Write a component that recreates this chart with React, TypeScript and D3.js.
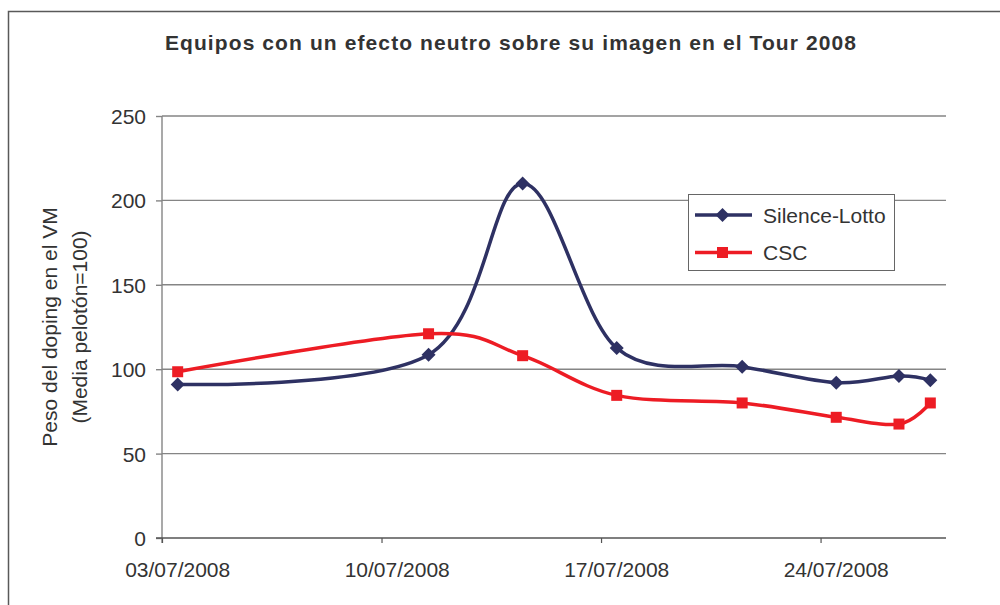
import React, { useEffect, useRef } from 'react';
import * as d3 from 'd3';

// data
const dates = ['2008-07-03', '2008-07-11', '2008-07-14', '2008-07-17', '2008-07-21', '2008-07-24', '2008-07-26', '2008-07-27'];
const silenceLotto = [91, 108.5, 210, 112.5, 101.5, 92, 96, 93.5];
const csc = [98.5, 121, 108, 84.5, 80, 71.5, 67.5, 80];
const seriesNames = ['Silence-Lotto', 'CSC'];
const xTickDates = ['2008-07-03', '2008-07-10', '2008-07-17', '2008-07-24'];
const yTicks = [0, 50, 100, 150, 200, 250];

const title = 'Equipos con un efecto neutro sobre su imagen en el Tour 2008';
const yTitle = ['Peso del doping en el VM', '(Media pelotón=100)'];

const NAVY = '#2e3163';
const RED = '#ed1c24';
const TEXT = '#333333';
const GRID = '#858585';
const FONT = '"Liberation Sans", Arial, sans-serif';

const parse = (s: string) => new Date(s + 'T00:00:00');
const noon = (s: string) => new Date(s + 'T12:00:00');

const App: React.FC = () => {
  const svgRef = useRef<SVGSVGElement>(null);

  useEffect(() => {
    if (!svgRef.current) return;
    const svg = d3.select(svgRef.current);
    svg.selectAll('*').remove();

    const left = 162, right = 946, top = 116, bottom = 538;

    const x = d3.scaleTime()
      .domain([parse('2008-07-03'), parse('2008-07-28')])
      .range([left, right]);
    const y = d3.scaleLinear().domain([0, 250]).range([bottom, top]);

    // outer frame
    svg.append('rect')
      .attr('x', 8.5).attr('y', 11.5)
      .attr('width', 1100).attr('height', 700)
      .attr('fill', 'white')
      .attr('stroke', '#595959').attr('stroke-width', 1.5);

    // title
    svg.append('text')
      .attr('x', 511).attr('y', 50)
      .attr('text-anchor', 'middle')
      .attr('font-family', FONT).attr('font-size', 21).attr('font-weight', 'bold')
      .attr('letter-spacing', 1.1)
      .attr('fill', TEXT)
      .text(title);

    // gridlines
    svg.append('g').selectAll('line')
      .data(yTicks.filter(t => t > 0))
      .enter().append('line')
      .attr('x1', left).attr('x2', right)
      .attr('y1', d => y(d)).attr('y2', d => y(d))
      .attr('stroke', GRID).attr('stroke-width', 1.4);

    // y axis
    const yAxis = svg.append('g')
      .attr('transform', `translate(${left},0)`)
      .call(d3.axisLeft(y).tickValues(yTicks).tickSize(6).tickPadding(10));
    yAxis.select('.domain').remove();
    yAxis.selectAll('line').attr('stroke', GRID).attr('stroke-width', 1.4);
    yAxis.selectAll('text')
      .attr('font-family', FONT).attr('font-size', 21).attr('fill', TEXT)
      .attr('dy', '0.36em');
    svg.append('line')
      .attr('x1', left).attr('x2', left)
      .attr('y1', top).attr('y2', bottom + 5)
      .attr('stroke', GRID).attr('stroke-width', 1.4);

    // x axis
    const xAxis = svg.append('g')
      .attr('transform', `translate(0,${bottom})`)
      .call(d3.axisBottom(x).tickValues(xTickDates.map(parse)).tickSize(5).tickFormat(() => ''));
    xAxis.select('.domain').remove();
    xAxis.selectAll('line').attr('stroke', '#555').attr('stroke-width', 1.2);
    svg.append('line')
      .attr('x1', left - 6).attr('x2', right)
      .attr('y1', bottom).attr('y2', bottom)
      .attr('stroke', '#555').attr('stroke-width', 1.4);
    svg.append('g').selectAll('text')
      .data(xTickDates)
      .enter().append('text')
      .attr('x', d => x(noon(d)))
      .attr('y', 577)
      .attr('text-anchor', 'middle')
      .attr('font-family', FONT).attr('font-size', 21).attr('fill', TEXT)
      .text(d => d3.timeFormat('%d/%m/%Y')(parse(d)));

    // y axis title
    const yt = svg.append('text')
      .attr('transform', 'translate(0,327) rotate(-90)')
      .attr('text-anchor', 'middle')
      .attr('font-family', FONT).attr('font-size', 21).attr('fill', TEXT);
    yt.append('tspan').attr('x', 0).attr('y', 57).text(yTitle[0]);
    yt.append('tspan').attr('x', 0).attr('y', 87).text(yTitle[1]);

    // series
    const series = [
      { name: seriesNames[0], values: silenceLotto, color: NAVY, shape: 'diamond' },
      { name: seriesNames[1], values: csc, color: RED, shape: 'square' },
    ];
    const line = d3.line<[Date, number]>()
      .x(d => x(d[0]))
      .y(d => y(d[1]))
      .curve(d3.curveCardinal.tension(0));

    const diamond = (cx: number, cy: number) =>
      `M${cx},${cy - 7}L${cx + 7},${cy}L${cx},${cy + 7}L${cx - 7},${cy}Z`;
    const square = (cx: number, cy: number) =>
      `M${cx - 5.5},${cy - 5.5}h11v11h-11Z`;

    series.forEach(s => {
      const pts: [Date, number][] = dates.map((d, i) => [noon(d), s.values[i]]);
      svg.append('path')
        .attr('d', line(pts))
        .attr('fill', 'none')
        .attr('stroke', s.color).attr('stroke-width', 3.5)
        .attr('stroke-linejoin', 'round');
      svg.append('g').selectAll('path')
        .data(pts)
        .enter().append('path')
        .attr('d', p => (s.shape === 'diamond' ? diamond : square)(x(p[0]), y(p[1])))
        .attr('fill', s.color);
    });

    // legend
    const lg = svg.append('g');
    lg.append('rect')
      .attr('x', 688.5).attr('y', 194.5)
      .attr('width', 206).attr('height', 76)
      .attr('fill', 'white').attr('stroke', '#666').attr('stroke-width', 1);
    series.forEach((s, i) => {
      const cy = 215 + i * 37.5;
      lg.append('line')
        .attr('x1', 695).attr('x2', 752)
        .attr('y1', cy).attr('y2', cy)
        .attr('stroke', s.color).attr('stroke-width', 3.5);
      lg.append('path')
        .attr('d', (s.shape === 'diamond' ? diamond : square)(722.5, cy))
        .attr('fill', s.color);
      lg.append('text')
        .attr('x', 763).attr('y', cy + 7.5)
        .attr('font-family', FONT).attr('font-size', 21).attr('fill', TEXT)
        .text(s.name);
    });
  }, []);

  return (
    <svg ref={svgRef} width={1000} height={605}
      style={{ position: 'absolute', left: 0, top: 0, background: 'white' }} />
  );
};

export default App;
